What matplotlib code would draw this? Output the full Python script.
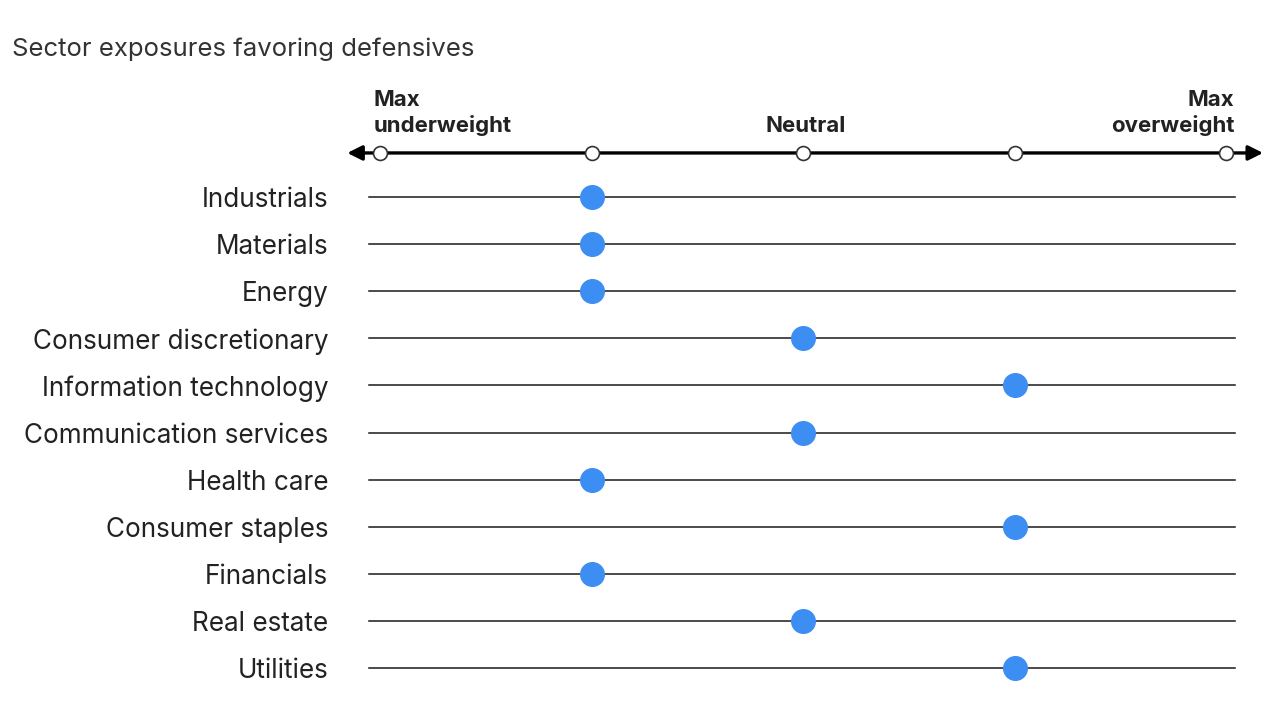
import matplotlib
matplotlib.use("Agg")
import matplotlib.pyplot as plt

# data
sectors = ["Industrials", "Materials", "Energy", "Consumer discretionary",
           "Information technology", "Communication services", "Health care",
           "Consumer staples", "Financials", "Real estate", "Utilities"]
positions = [-1, -1, -1, 0, 1, 0, -1, 1, -1, 0, 1]
scale_ticks = [-2, -1, 0, 1, 2]
title = "Sector exposures favoring defensives"

plt.rcParams["font.family"] = ["Inter", "DejaVu Sans"]

BLUE = "#3d8ef2"
TXT = "#222222"

fig = plt.figure(figsize=(12.8, 7.2), dpi=100)
ax = fig.add_axes([0, 0, 1, 1])
ax.set_xlim(-3.797, 2.255)
ax.set_ylim(11.10, -4.18)
ax.axis("off")

# scale axis with arrows
axis_y = -0.934
ax.annotate("", xy=(2.175, axis_y), xytext=(-2.155, axis_y),
            arrowprops=dict(arrowstyle="<|-|>", color="black", lw=2.4,
                            mutation_scale=22, shrinkA=0, shrinkB=0))
ax.plot(scale_ticks, [axis_y] * len(scale_ticks), "o", ms=10,
        mfc="white", mec="#333333", mew=1.2, zorder=5)

hdr = dict(fontsize=16, fontweight="bold", color=TXT, linespacing=1.3)
ax.text(-2.03, axis_y - 0.36, "Max\nunderweight", ha="left", va="bottom",
        **hdr)
ax.text(0.01, axis_y - 0.36, "Neutral", ha="center", va="bottom", **hdr)
ax.text(2.04, axis_y - 0.36, "Max\noverweight", ha="right", va="bottom",
        multialignment="right", **hdr)

# rows
for i, (name, pos) in enumerate(zip(sectors, positions)):
    ax.plot([-2.05, 2.043], [i, i], color="#1a1a1a", lw=1.1, zorder=1)
    ax.plot(pos, i, "o", ms=17, color=BLUE, zorder=3)
    ax.text(-2.246, i, name, ha="right", va="center_baseline", fontsize=18.8,
            color=TXT)

fig.text(12 / 1280, 1 - 47 / 720, title, ha="left", va="center_baseline",
         fontsize=18.5, color="#333333")

fig.savefig("out.png", dpi=100)
